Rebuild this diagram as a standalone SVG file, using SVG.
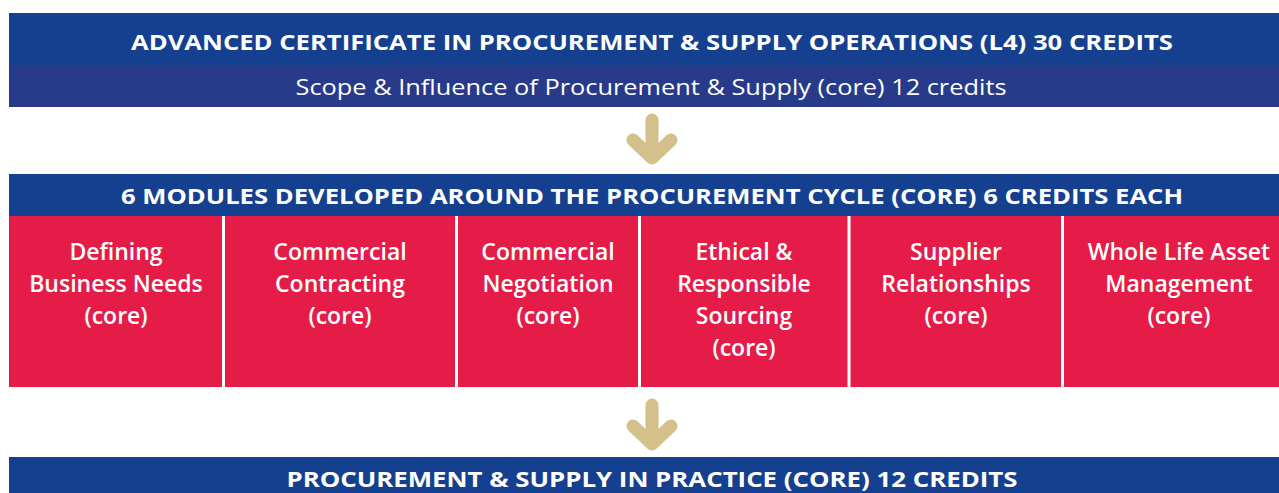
<svg xmlns="http://www.w3.org/2000/svg" width="1279" height="493" viewBox="0 0 1279 493">
<defs>
<style>
.bar{fill:#15408f}
.sub{fill:#283a8a}
.cell{fill:#e61c48}
.h{font-family:"Open Sans","Liberation Sans",sans-serif;font-weight:700;font-size:22px;fill:#fff;text-anchor:middle}
.t{font-family:"Open Sans","Liberation Sans",sans-serif;font-weight:500;font-size:22px;fill:#fff;text-anchor:middle}
.c{font-family:"Open Sans","Liberation Sans",sans-serif;font-weight:600;font-size:23px;fill:#fff;text-anchor:middle}
.arr{fill:none;stroke:#d3c08a;stroke-width:13;stroke-linecap:round;stroke-linejoin:round}
.div{stroke:#fff;stroke-width:3}
</style>
</defs>
<rect width="1279" height="493" fill="#fff"/>
<g id="top-header">
<rect class="bar" x="9" y="13" width="1270" height="52"/>
<text class="h" x="652" y="50" textLength="1042" lengthAdjust="spacingAndGlyphs">ADVANCED CERTIFICATE IN PROCUREMENT &amp; SUPPLY OPERATIONS (L4) 30 CREDITS</text>
</g>
<g id="scope">
<rect class="sub" x="9" y="65" width="1270" height="42"/>
<text class="t" x="651" y="95" textLength="711" lengthAdjust="spacingAndGlyphs">Scope &amp; Influence of Procurement &amp; Supply (core) 12 credits</text>
</g>
<g id="modules-header">
<rect class="bar" x="9" y="174" width="1270" height="42"/>
<text class="h" x="652" y="204" textLength="1062" lengthAdjust="spacingAndGlyphs">6 MODULES DEVELOPED AROUND THE PROCUREMENT CYCLE (CORE) 6 CREDITS EACH</text>
</g>
<g id="modules">
<rect class="cell" x="9" y="216" width="1270" height="171"/>
<line class="div" x1="223.5" y1="216" x2="223.5" y2="387"/>
<line class="div" x1="456.5" y1="216" x2="456.5" y2="387"/>
<line class="div" x1="639.5" y1="216" x2="639.5" y2="387"/>
<line class="div" x1="849" y1="216" x2="849" y2="387"/>
<line class="div" x1="1062.5" y1="216" x2="1062.5" y2="387"/>
</g>
<g id="m1"><text class="c" x="116" y="260">Defining</text><text class="c" x="116" y="292">Business Needs</text><text class="c" x="116" y="324">(core)</text></g>
<g id="m2"><text class="c" x="340" y="260">Commercial</text><text class="c" x="340" y="292">Contracting</text><text class="c" x="340" y="324">(core)</text></g>
<g id="m3"><text class="c" x="548" y="260">Commercial</text><text class="c" x="548" y="292">Negotiation</text><text class="c" x="548" y="324">(core)</text></g>
<g id="m4"><text class="c" x="744" y="260">Ethical &amp;</text><text class="c" x="744" y="292">Responsible</text><text class="c" x="744" y="324">Sourcing</text><text class="c" x="744" y="356">(core)</text></g>
<g id="m5"><text class="c" x="956" y="260">Supplier</text><text class="c" x="956" y="292">Relationships</text><text class="c" x="956" y="324">(core)</text></g>
<g id="m6"><text class="c" x="1179" y="260">Whole Life Asset</text><text class="c" x="1179" y="292">Management</text><text class="c" x="1179" y="324">(core)</text></g>
<g id="practice">
<rect class="bar" x="9" y="457" width="1270" height="36"/>
<text class="h" x="652" y="487" textLength="731" lengthAdjust="spacingAndGlyphs">PROCUREMENT &amp; SUPPLY IN PRACTICE (CORE) 12 CREDITS</text>
</g>
<g id="connectors">
<path class="arr" d="M652,120 V158 M633,140 L652,158 L671,140"/>
<path class="arr" d="M652,405 V444 M633,426 L652,444 L671,426"/>
</g>
</svg>
